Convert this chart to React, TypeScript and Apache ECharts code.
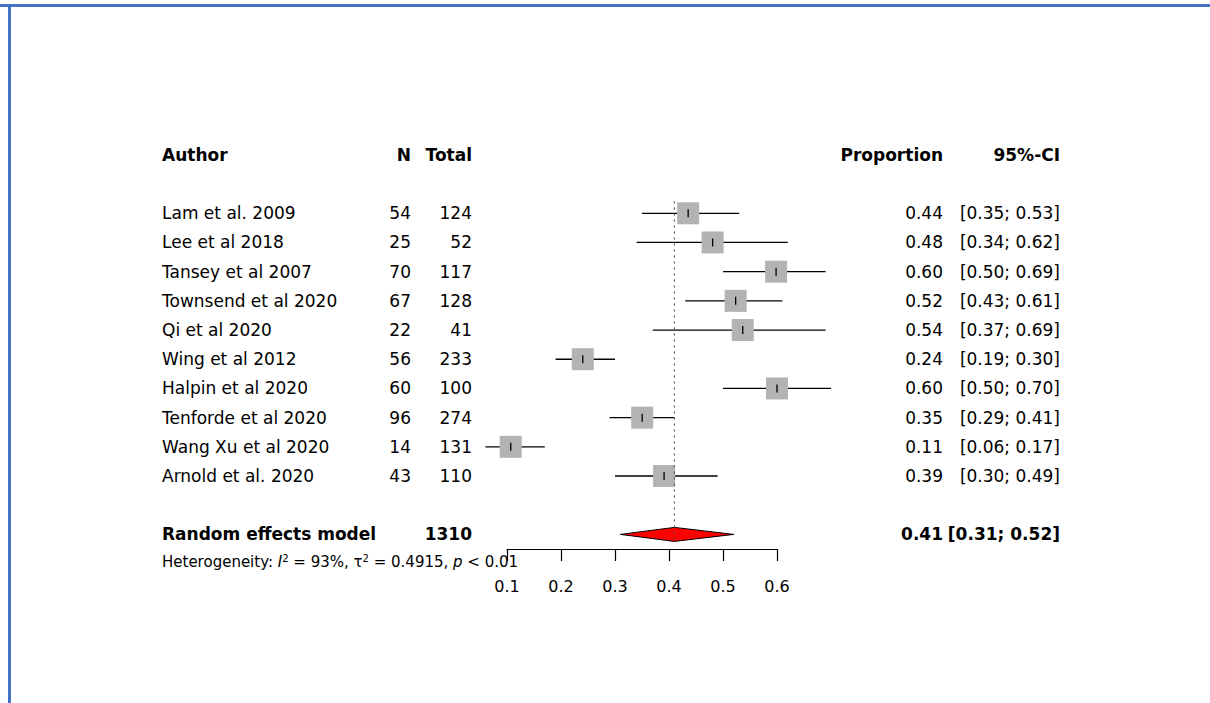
import { useEffect, useRef } from 'react';
import * as echarts from 'echarts';

const authors = [
  'Lam et al. 2009', 'Lee et al 2018', 'Tansey et al 2007', 'Townsend et al 2020', 'Qi et al 2020',
  'Wing et al 2012', 'Halpin et al 2020', 'Tenforde et al 2020', 'Wang Xu et al 2020', 'Arnold et al. 2020'
];
const events = [54, 25, 70, 67, 22, 56, 60, 96, 14, 43];
const totals = [124, 52, 117, 128, 41, 233, 100, 274, 131, 110];
const proportions = [0.44, 0.48, 0.60, 0.52, 0.54, 0.24, 0.60, 0.35, 0.11, 0.39];
const lower = [0.35, 0.34, 0.50, 0.43, 0.37, 0.19, 0.50, 0.29, 0.06, 0.30];
const upper = [0.53, 0.62, 0.69, 0.61, 0.69, 0.30, 0.70, 0.41, 0.17, 0.49];
const pooled = { total: 1310, est: 0.41, lo: 0.31, hi: 0.52 };

const FONT = '"DejaVu Sans", sans-serif';
const COLS = { author: 162, n: 411, total: 472, prop: 943, ci: 1060 };

export default function App() {
  const ref = useRef<HTMLDivElement | null>(null);

  useEffect(() => {
    if (!ref.current) return;
    const chart = echarts.init(ref.current, null, { renderer: 'svg' });

    // row index: 0 header, 2..11 studies, 13 pooled
    const tableRows: any[] = [
      { row: 0, bold: true, cells: ['Author', 'N', 'Total', 'Proportion', '95%-CI'] },
      ...authors.map((a, i) => ({
        row: i + 2,
        bold: false,
        cells: [a, String(events[i]), String(totals[i]), proportions[i].toFixed(2),
          `[${lower[i].toFixed(2)}; ${upper[i].toFixed(2)}]`]
      })),
      { row: 13, bold: true, cells: ['Random effects model', '', String(pooled.total), pooled.est.toFixed(2),
        `[${pooled.lo.toFixed(2)}; ${pooled.hi.toFixed(2)}]`] }
    ];

    const studyData = authors.map((_, i) => [events[i] / totals[i], i + 2, lower[i], upper[i]]);

    chart.setOption({
      animation: false,
      grid: { left: 507, right: 433, top: 125.7, bottom: 154 },
      xAxis: {
        type: 'value', min: 0.1, max: 0.6, interval: 0.1, position: 'bottom',
        splitLine: { show: false },
        axisLine: { onZero: false, lineStyle: { color: '#000', width: 1.2 } },
        axisTick: { inside: false, length: 12, lineStyle: { color: '#000', width: 1.2 } },
        axisLabel: { color: '#000', fontSize: 16, fontFamily: FONT, margin: 29, formatter: (v: number) => v.toFixed(1) }
      },
      yAxis: { type: 'value', inverse: true, min: -1, max: 13.5, show: false },
      series: [
        {
          type: 'line', data: [[pooled.est, 1.6], [pooled.est, 13.2]], symbol: 'none',
          lineStyle: { color: '#555', width: 1.2, type: [2, 4] }
        },
        {
          type: 'custom',
          data: studyData,
          renderItem: (params: any, api: any) => {
            const est = api.value(0), row = api.value(1);
            const c = api.coord([est, row]);
            const l = api.coord([api.value(2), row]);
            const h = api.coord([api.value(3), row]);
            return {
              type: 'group',
              children: [
                { type: 'line', shape: { x1: l[0], y1: c[1], x2: h[0], y2: c[1] }, style: { stroke: '#000', lineWidth: 1.3 } },
                { type: 'rect', shape: { x: c[0] - 11, y: c[1] - 11, width: 22, height: 22 }, style: { fill: '#b3b3b3' } },
                { type: 'line', shape: { x1: c[0], y1: c[1] - 4, x2: c[0], y2: c[1] + 4 }, style: { stroke: '#000', lineWidth: 1.3 } }
              ]
            };
          }
        },
        {
          type: 'custom',
          data: [[pooled.est, 13, pooled.lo, pooled.hi]],
          renderItem: (params: any, api: any) => {
            const c = api.coord([api.value(0), api.value(1)]);
            const l = api.coord([api.value(2), api.value(1)]);
            const h = api.coord([api.value(3), api.value(1)]);
            return {
              type: 'polygon',
              shape: { points: [[l[0], c[1]], [c[0], c[1] - 7], [h[0], c[1]], [c[0], c[1] + 7]] },
              style: { fill: '#ff0000', stroke: '#000', lineWidth: 1 }
            };
          }
        },
        {
          type: 'custom',
          clip: false,
          data: tableRows.map((r) => [0.1, r.row]),
          renderItem: (params: any, api: any) => {
            const r = tableRows[params.dataIndex];
            const y = api.coord([0.1, api.value(1)])[1];
            const xs = [COLS.author, COLS.n, COLS.total, COLS.prop, COLS.ci];
            return {
              type: 'group',
              children: r.cells.map((t: string, k: number) => ({
                type: 'text',
                style: {
                  x: xs[k], y, text: t, fill: '#000', fontSize: 17, fontFamily: FONT,
                  fontWeight: r.bold ? 'bold' : 'normal',
                  align: k === 0 ? 'left' : 'right', verticalAlign: 'middle'
                }
              }))
            };
          }
        }
      ],
      graphic: [
        { type: 'rect', shape: { x: 0, y: 4, width: 1210, height: 3 }, style: { fill: '#4472c4' } },
        { type: 'rect', shape: { x: 8, y: 4, width: 3, height: 699 }, style: { fill: '#4472c4' } },
        {
          type: 'text', left: 162, top: 553,
          style: {
            text: 'Heterogeneity: {i|I}{s|2} = 93%, τ{s|2} = 0.4915, {i|p} < 0.01',
            fontSize: 15, fontFamily: FONT, fill: '#000',
            rich: {
              i: { fontStyle: 'italic', fontSize: 15, fontFamily: FONT },
              s: { fontSize: 10, fontFamily: FONT, verticalAlign: 'top', padding: [0, 0, 8, 0] }
            }
          }
        }
      ]
    });
    return () => chart.dispose();
  }, []);

  return <div ref={ref} style={{ position: 'fixed', left: 0, top: 0, width: 1210, height: 703, background: '#fff' }} />;
}
